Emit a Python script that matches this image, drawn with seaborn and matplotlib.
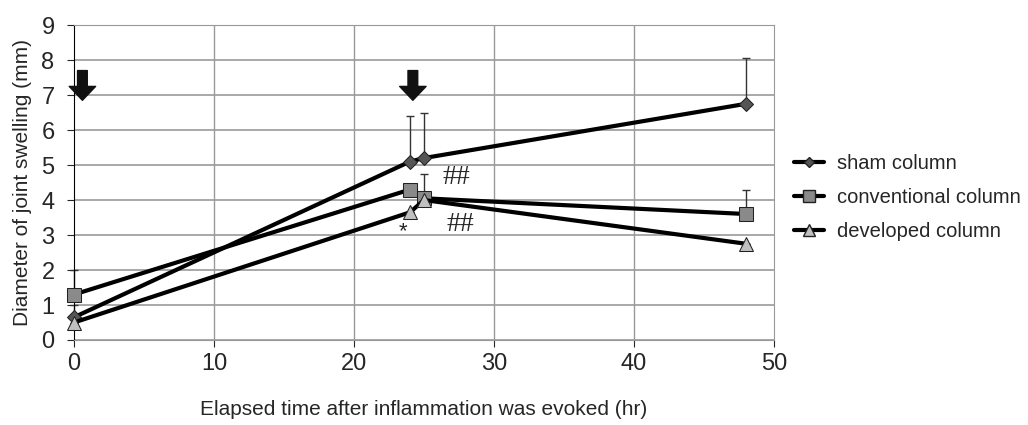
import pandas as pd
import numpy as np
import seaborn as sns
import matplotlib.pyplot as plt

# Dados
tempo = [0, 24, 25, 48]
sham = [0.65, 5.1, 5.2, 6.75]
sham_err = [0.35, 1.3, 1.3, 1.3]
conventional = [1.3, 4.3, 4.05, 3.6]
conventional_err = [0.7, 0.0, 0.0, 0.7]
developed = [0.5, 3.65, 4.0, 2.75]
developed_err = [0.0, 0.0, 0.75, 0.0]

series = ['sham column', 'conventional column', 'developed column']
valores = [sham, conventional, developed]
erros = [sham_err, conventional_err, developed_err]

df = pd.DataFrame({
    'tempo': tempo * 3,
    'diametro': sham + conventional + developed,
    'grupo': np.repeat(series, len(tempo)),
})

sns.set_style('white')
plt.rcParams['font.family'] = ['Liberation Sans', 'DejaVu Sans']

fig = plt.figure(figsize=(10.28, 4.25), dpi=100)
ax = fig.add_axes([0.072, 0.2, 0.681, 0.741])

# Grade
for yv in range(0, 10):
    ax.axhline(yv, color='#999999', lw=1.2, zorder=0)
for xv in range(10, 50, 10):
    ax.axvline(xv, color='#999999', lw=1.0, zorder=0)

# Barras de erro (somente superiores)
for vals, errs in zip(valores, erros):
    eb = ax.errorbar(tempo, vals, yerr=[np.zeros(len(errs)), errs], fmt='none',
                     ecolor='#333333', elinewidth=1.0, capsize=3, capthick=1.0, zorder=2)
    for art in eb.lines[1] + eb.lines[2]:
        art.set_clip_on(False)

paleta = {'sham column': 'black', 'conventional column': 'black', 'developed column': 'black'}
marcadores = {'sham column': 'D', 'conventional column': 's', 'developed column': '^'}
sns.lineplot(data=df, x='tempo', y='diametro', hue='grupo', style='grupo',
             palette=paleta, markers=marcadores, dashes=False, lw=3,
             markersize=9, ax=ax, zorder=3, legend=False)

fills = ['#555555', '#8a8a8a', '#c0c0c0']
sizes = [7, 10, 10]
for line, fc, ms in zip(ax.lines[-3:], fills, sizes):
    line.set_markerfacecolor(fc)
    line.set_markeredgecolor('#222222')
    line.set_markersize(ms)
    line.set_clip_on(False)

# Setas
for xa in [0.6, 24.2]:
    ax.annotate('', xy=(xa, 6.85), xytext=(xa, 7.7),
                arrowprops=dict(facecolor='#111111', edgecolor='#111111',
                                width=7, headwidth=19, headlength=10))

# Anotações
ax.text(26.3, 4.65, '##', fontsize=20, va='center', ha='left', family='Liberation Serif')
ax.text(26.6, 3.3, '##', fontsize=20, va='center', ha='left', family='Liberation Serif')
ax.text(23.5, 3.1, '*', fontsize=16, va='center', ha='center')

ax.set_xlim(0, 50)
ax.set_ylim(0, 9)
ax.set_xticks(range(0, 51, 10))
ax.set_yticks(range(0, 10))
ax.tick_params(labelsize=17, length=5, direction='out', left=True, bottom=True)
ax.tick_params(axis='y', pad=9)
ax.tick_params(axis='x', pad=4.5)
for s in ['top', 'right']:
    ax.spines[s].set_visible(True)
    ax.spines[s].set_color('#999999')
ax.spines['left'].set_color('black')
ax.spines['bottom'].set_color('#999999')
ax.set_xlabel('Elapsed time after inflammation was evoked (hr)', fontsize=15, labelpad=18)
ax.set_ylabel('Diameter of joint swelling (mm)', fontsize=15, labelpad=7)

# Legenda
handles = []
for lab, fc, ms in zip(series, fills, sizes):
    h, = ax.plot([], [], color='black', lw=3, marker=marcadores[lab],
                 markerfacecolor=fc, markeredgecolor='#222222', markersize=ms * 0.8)
    handles.append(h)
fig.legend(handles, series, loc='center left', bbox_to_anchor=(0.755, 0.536),
           frameon=False, fontsize=14.5, handlelength=1.5, labelspacing=0.75,
           handletextpad=0.6)

fig.savefig('out.png', dpi=100)
